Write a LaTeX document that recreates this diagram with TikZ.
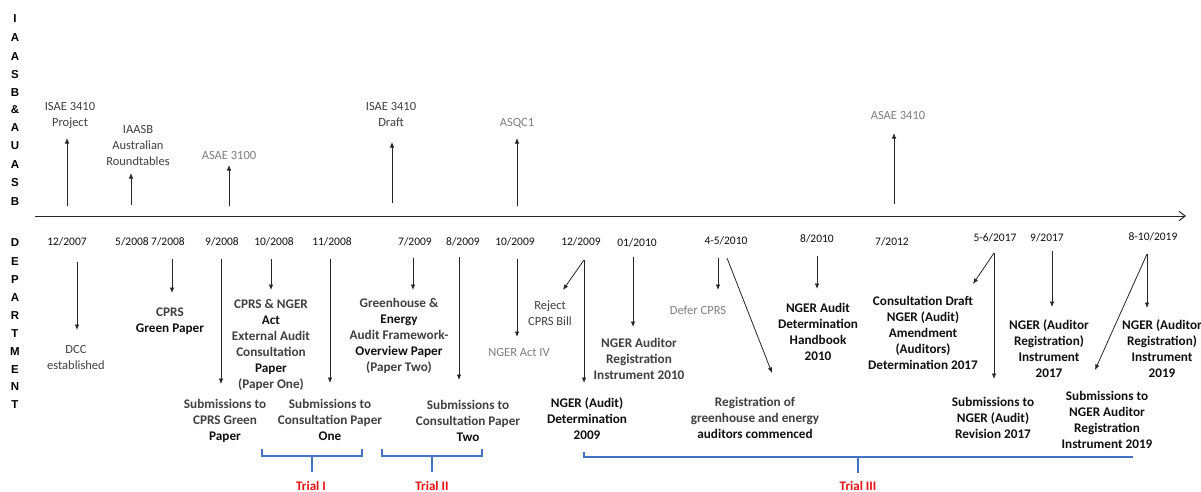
\documentclass[tikz,border=0pt]{standalone}
\usepackage{fontspec}
\setmainfont{Carlito}
\newfontfamily\sidefont{Liberation Sans}
\usetikzlibrary{arrows.meta}
\definecolor{txt}{HTML}{404040}
\definecolor{blk}{HTML}{101010}
\definecolor{gtxt}{HTML}{7F7F7F}
\definecolor{bblue}{HTML}{4472C4}
\definecolor{tred}{HTML}{E81010}
\tikzset{
 lbl/.style={font=\fontsize{12.5}{16}\selectfont, align=center, inner sep=0pt, text=txt},
 blbl/.style={lbl, font=\fontsize{13.2}{16}\selectfont\bfseries},
 glbl/.style={lbl, text=gtxt},
 datelbl/.style={font=\fontsize{11.5}{14}\selectfont, inner sep=0pt, text=blk},
 side/.style={font=\sidefont\bfseries\fontsize{11.5}{13}\selectfont, inner sep=0pt, text=black},
 arr/.style={draw=black!85, line width=0.8pt, -{Latex[length=5.5pt,width=4.5pt]}},
 axisline/.style={draw=black!85, line width=1pt, -{Straight Barb[length=6pt,width=9pt]}},
 brk/.style={draw=bblue, line width=1.6pt},
 trial/.style={font=\fontsize{13}{15}\selectfont\bfseries, text=tred, inner sep=0pt},
}
\begin{document}
\begin{tikzpicture}[x=1pt,y=-1pt]
\useasboundingbox (0,0) rectangle (1201,492);
\fill[white] (0,0) rectangle (1201,492);

% side labels
\foreach \l/\yy [count=\i] in {I/19, A/38, A/57, S/75, B/93, \&/110, A/128, U/146, A/165, S/183, B/202}
  \node[side] (ta\i) at (15,\yy) {\l};
\foreach \l/\yy [count=\i] in {D/243, E/262, P/280, A/298, R/316, T/334, M/352, E/370, N/387, T/405}
  \node[side] (dp\i) at (15,\yy) {\l};

% axis
\coordinate (axL) at (35,216);
\coordinate (axR) at (1186,216);
\draw[axisline] (axL) -- (axR);

% top labels
\node[lbl] (isp) at (70,116) {ISAE 3410\\Project};
\node[lbl] (iaasb) at (138,145) {IAASB\\Australian\\Roundtables};
\node[glbl] (asae1) at (229,155) {ASAE 3100};
\node[lbl] (isd) at (391,114.5) {ISAE 3410\\Draft};
\node[glbl] (asqc) at (517,123) {ASQC1};
\node[glbl] (asae2) at (898,115) {ASAE 3410};

% top arrows
\coordinate (u1s) at (67,206);  \coordinate (u1e) at (67,138);
\coordinate (u2s) at (131,205); \coordinate (u2e) at (131,173);
\coordinate (u3s) at (229,206); \coordinate (u3e) at (229,165);
\coordinate (u4s) at (392,203); \coordinate (u4e) at (392,142);
\coordinate (u5s) at (517,206); \coordinate (u5e) at (517,138);
\coordinate (u6s) at (894,204); \coordinate (u6e) at (894,133);
\foreach \i in {1,...,6} \draw[arr] (u\i s) -- (u\i e);

% dates
\node[datelbl] (d1) at (67,242) {12/2007};
\node[datelbl] (d2) at (132,242) {5/2008};
\node[datelbl] (d3) at (168,242) {7/2008};
\node[datelbl] (d4) at (222,242) {9/2008};
\node[datelbl] (d5) at (274,242) {10/2008};
\node[datelbl] (d6) at (332,242) {11/2008};
\node[datelbl] (d7) at (415,242) {7/2009};
\node[datelbl] (d8) at (463,242) {8/2009};
\node[datelbl] (d9) at (515,242) {10/2009};
\node[datelbl] (d10) at (581,242) {12/2009};
\node[datelbl] (d11) at (637,243) {01/2010};
\node[datelbl] (d12) at (726,241) {4-5/2010};
\node[datelbl] (d13) at (817,239) {8/2010};
\node[datelbl] (d14) at (892,242) {7/2012};
\node[datelbl] (d15) at (995,238) {5-6/2017};
\node[datelbl] (d16) at (1047,238) {9/2017};
\node[datelbl] (d17) at (1153,237) {8-10/2019};

% lower labels
\node[lbl] (dcc) at (76,357) {DCC\\established};
\node[blbl] (cprsg) at (170,321) {CPRS\\\textcolor{blk}{Green Paper}};
\node[blbl] (subg) at (225,421) {Submissions to\\CPRS Green\\\textcolor{blk}{Paper}};
\node[blbl] (cprsn) at (271,344.5) {CPRS \& NGER\\\textcolor{blk}{Act}\\External Audit\\Consultation\\\textcolor{blk}{Paper}\\(Paper One)};
\node[blbl] (sub1) at (330,419.5) {Submissions to\\Consultation Paper\\\textcolor{blk}{One}};
\node[blbl] (ghe) at (399,336) {Greenhouse \&\\\textcolor{blk}{Energy}\\Audit Framework-\\\textcolor{blk}{Overview Paper}\\(Paper Two)};
\node[blbl] (sub2) at (468,420.5) {Submissions to\\Consultation Paper\\\textcolor{blk}{Two}};
\node[glbl] (activ) at (519,352) {NGER Act IV};
\node[lbl] (reject) at (550,313) {Reject\\CPRS Bill};
\node[blbl, text=blk] (ngerd) at (587,419) {NGER (Audit)\\Determination\\2009};
\node[blbl] (ngera) at (639,358.5) {NGER Auditor\\Registration\\Instrument 2010};
\node[glbl] (defer) at (698,310) {Defer CPRS};
\node[blbl] (regis) at (755,418) {Registration of\\greenhouse and energy\\\textcolor{blk}{auditors commenced}};
\node[blbl, text=blk] (hand) at (818,332) {NGER Audit\\Determination\\Handbook\\2010};
\node[blbl, text=blk] (cons) at (923,332.5) {Consultation Draft\\NGER (Audit)\\Amendment\\(Auditors)\\Determination 2017};
\node[blbl, text=blk] (subr) at (993,418) {Submissions to\\NGER (Audit)\\Revision 2017};
\node[blbl, text=blk] (inst17) at (1049,348.5) {NGER (Auditor\\Registration)\\Instrument\\2017};
\node[blbl, text=blk] (inst19) at (1162,348.5) {NGER (Auditor\\Registration)\\Instrument\\2019};
\node[blbl, text=blk] (sub19) at (1107,419.5) {Submissions to\\NGER Auditor\\Registration\\Instrument 2019};

% down arrows
\coordinate (a1s) at (77,262);   \coordinate (a1e) at (77,330);
\coordinate (a2s) at (172,259);  \coordinate (a2e) at (172,293);
\coordinate (a3s) at (221,259);  \coordinate (a3e) at (221,384);
\coordinate (a4s) at (271,259);  \coordinate (a4e) at (271,290);
\coordinate (a5s) at (330,259);  \coordinate (a5e) at (330,383);
\coordinate (a6s) at (413,258);  \coordinate (a6e) at (413,290);
\coordinate (a7s) at (459,257);  \coordinate (a7e) at (459,380);
\coordinate (a8s) at (517,259);  \coordinate (a8e) at (517,337);
\coordinate (a9s) at (584,260);  \coordinate (a9e) at (584,383);
\coordinate (a10s) at (633,257); \coordinate (a10e) at (633,327);
\coordinate (a11s) at (718,258); \coordinate (a11e) at (718,290);
\coordinate (a12s) at (817,256); \coordinate (a12e) at (817,289);
\coordinate (a13s) at (994,253); \coordinate (a13e) at (994,379);
\coordinate (a14s) at (1052,251); \coordinate (a14e) at (1052,307);
\coordinate (a15s) at (1147,254); \coordinate (a15e) at (1147,308);
\foreach \i in {1,...,15} \draw[arr] (a\i s) -- (a\i e);
% diagonal arrows
\coordinate (b1e) at (563,290);
\coordinate (b2s) at (727,258); \coordinate (b2e) at (772,373);
\coordinate (b3e) at (973,284);
\coordinate (b4e) at (1095,370);
\draw[arr] (a9s) -- (b1e);
\draw[arr] (b2s) -- (b2e);
\draw[arr] (a13s) -- (b3e);
\draw[arr] (a15s) -- (b4e);

% trial brackets
\coordinate (t1l) at (262,449); \coordinate (t1r) at (362,449); \coordinate (t1m) at (312,456);
\draw[brk] (t1l) -- (262,456) -- (362,456) -- (t1r);
\draw[brk] (t1m) -- (312,472);
\coordinate (t2l) at (382,449); \coordinate (t2r) at (482,449); \coordinate (t2m) at (432,456);
\draw[brk] (t2l) -- (382,456) -- (482,456) -- (t2r);
\draw[brk] (t2m) -- (432,472);
\coordinate (t3l) at (584,452); \coordinate (t3r) at (1133,457); \coordinate (t3m) at (858,457);
\draw[brk] (t3l) -- (584,457) -- (t3r);
\draw[brk] (t3m) -- (858,473);
\node[trial] (tr1) at (311,485.5) {Trial I};
\node[trial] (tr2) at (432,485.5) {Trial II};
\node[trial] (tr3) at (858,485.5) {Trial III};
\end{tikzpicture}
\end{document}
